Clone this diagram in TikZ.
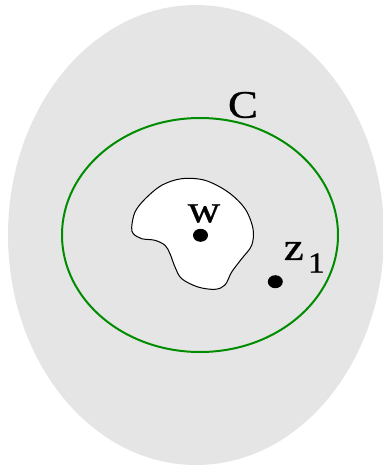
\documentclass[tikz,border=0pt]{standalone}
\usepackage{graphicx}
\usepackage{fontspec}
\usetikzlibrary{shapes.geometric}
\setmainfont{Liberation Serif}
\newfontfamily\lblfont[FakeBold=0.7]{Liberation Serif}
\newcommand{\widen}[1]{\scalebox{1.15}[1]{#1}}
\begin{document}
\begin{tikzpicture}[x=1pt,y=-1pt,
  dot/.style={ellipse,fill=black,inner sep=0pt,minimum width=15pt,minimum height=13pt},
  lbl/.style={inner sep=0pt,font=\lblfont\fontsize{39}{40}\selectfont},
  sub/.style={inner sep=0pt,font=\lblfont\fontsize{29}{30}\selectfont}]
\useasboundingbox (0,0) rectangle (383,467);
\fill[gray!20] (196,235) ellipse [x radius=188, y radius=230];
\draw[line width=2pt, draw={rgb,255:red,0;green,140;blue,0}] (200,235) ellipse [x radius=138, y radius=117];
\draw[fill=white, line width=1pt] plot[smooth cycle, tension=0.55] coordinates {
 (131.7,227) (135,212) (145,199) (161.7,185.3) (181.7,178.7) (205,180.3)
 (228,192) (245,208.7) (253,228.7) (251.7,245.3) (241.7,258.7) (231.7,272)
 (225,285) (215,289.3) (198,287) (181.7,278.7) (175,267) (170,253.7)
 (165,245.3) (155,240.3) (141.7,238.7) (133.3,233.7)};
\node[dot] (w) at (200.5,235.3) {};
\node[dot] (z) at (275.3,281.7) {};
\node[lbl] (wl) at (204,213.5) {\widen{w}};
\node[lbl] (zl) at (293.8,251) {\widen{z}};
\node[sub] (one) at (316.3,263) {\widen{1}};
\node[lbl] (C) at (243,105) {\widen{C}};
\end{tikzpicture}
\end{document}
